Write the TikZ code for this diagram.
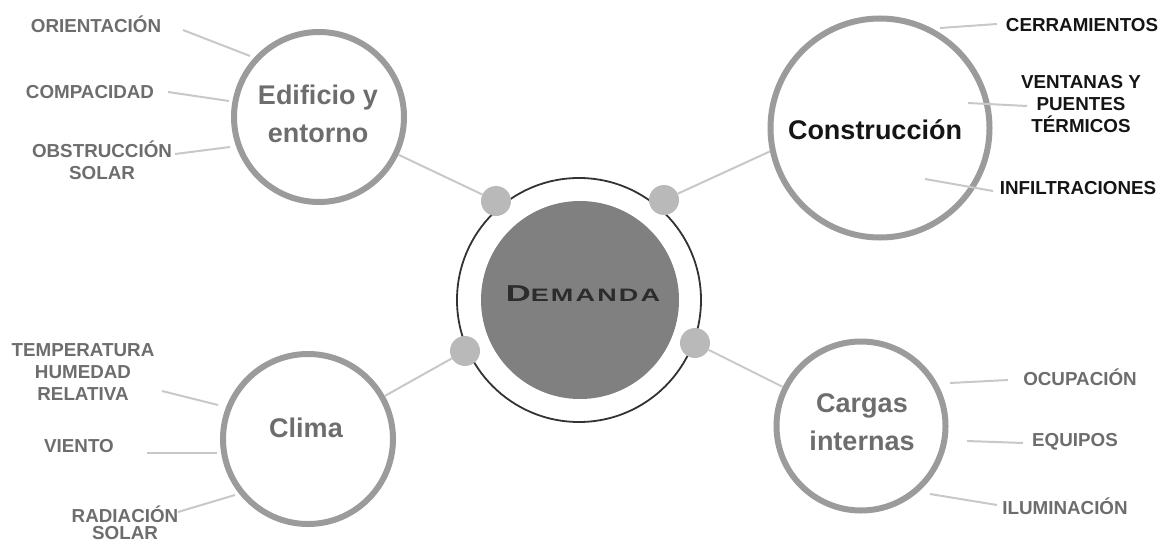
\documentclass[tikz,border=0pt]{standalone}
\usepackage{fontspec}
\setmainfont{Liberation Sans}
\newfontfamily\demfont{Liberation Sans}[LetterSpace=8]
\usepackage{graphicx}
\usepackage{tikz}

\definecolor{RingGray}{HTML}{9B9B9B}
\definecolor{DotGray}{HTML}{B9B9B9}
\definecolor{LineGray}{HTML}{C8C8C8}
\definecolor{CoreGray}{HTML}{808080}
\definecolor{LabelGray}{HTML}{6D6D6D}
\definecolor{LabelDark}{HTML}{151515}

\tikzset{
    PixelGrid/.style={x=1pt,y=-1pt},
    HubCircle/.style={circle,draw=RingGray,line width=6pt,minimum size=#1,inner sep=0pt},
    HubCircle/.default=170pt,
    HubText/.style={text=LabelGray,font=\bfseries\fontsize{27}{38}\selectfont,align=center,inner sep=0pt},
    Joint/.style={circle,fill=DotGray,minimum size=30pt,inner sep=0pt},
    LeafLabel/.style={text=LabelGray,font=\bfseries\fontsize{18.8}{22}\selectfont,align=center,inner sep=0pt},
    LeafLine/.style={draw=LineGray,line width=2pt}
}

\begin{document}
\begin{tikzpicture}[PixelGrid]
    \useasboundingbox (0,0) rectangle (1166,543);

    % centre
    \node[circle,draw=black!80,line width=1.8pt,minimum size=244pt,inner sep=0pt] (ring) at (579,300) {};
    \node[circle,fill=CoreGray,minimum size=198pt,inner sep=0pt] (core) at (580,300) {};
    \node[text=LabelDark!90,inner sep=0pt] (dem) at ([xshift=3pt,yshift=6pt]core.center)
        {\demfont\bfseries\scalebox{1.5}[1]{{\fontsize{23}{23}\selectfont D}\fontsize{18}{18}\selectfont EMANDA}};

    \node[Joint] (jtl) at (496,201) {};
    \node[Joint] (jtr) at (664,200) {};
    \node[Joint] (jbl) at (465,351) {};
    \node[Joint] (jbr) at (695,343) {};

    % hubs
    \node[HubCircle] (edif) at (319,117) {};
    \node[HubText] (edif-txt) at (318,114) {Edificio y\\entorno};
    \node[HubCircle=219pt] (cons) at (880,128) {};
    \node[HubText,text=LabelDark] (cons-txt) at (875,130) {Construcción};
    \node[HubCircle] (clima) at (308,439) {};
    \node[HubText] (clima-txt) at (306,428) {Clima};
    \node[HubCircle=169pt] (carg) at (861,426) {};
    \node[HubText] (carg-txt) at (862,422) {Cargas\\internas};

    \draw[LeafLine] (jtl) -- (edif);
    \draw[LeafLine] (jtr) -- (cons.192);
    \draw[LeafLine] (jbl) -- (clima);
    \draw[LeafLine] (jbr) -- (carg);

    % leaves
    \node[LeafLabel] (ori) at (96,24) {ORIENTACIÓN};
    \node[LeafLabel] (comp) at (90,92) {COMPACIDAD};
    \node[LeafLabel] (obst) at (102,160) {OBSTRUCCIÓN\\SOLAR};
    \node[LeafLabel,text=LabelDark] (cerr) at (1082,25) {CERRAMIENTOS};
    \node[LeafLabel,text=LabelDark] (vent) at (1081,104) {VENTANAS Y\\PUENTES\\TÉRMICOS};
    \node[LeafLabel,text=LabelDark] (infi) at (1078,188) {INFILTRACIONES};
    \node[LeafLabel] (temp) at (83,372) {TEMPERATURA\\HUMEDAD\\RELATIVA};
    \node[LeafLabel] (vien) at (79,446) {VIENTO};
    \node[LeafLabel,font=\bfseries\fontsize{18.8}{17}\selectfont] (radi) at (125,523) {RADIACIÓN\\SOLAR};
    \node[LeafLabel] (ocup) at (1080,377) {OCUPACIÓN};
    \node[LeafLabel] (equi) at (1075,442) {EQUIPOS};
    \node[LeafLabel] (ilum) at (1065,506) {ILUMINACIÓN};

    \coordinate (ori-a) at (183,30);   \coordinate (ori-b) at (250,56);
    \coordinate (comp-a) at (168,92);  \coordinate (comp-b) at (229,101);
    \coordinate (obst-a) at (175,154); \coordinate (obst-b) at (230,147);
    \coordinate (cerr-a) at (997,24);  \coordinate (cerr-b) at (940,28);
    \coordinate (vent-a) at (1027,106); \coordinate (vent-b) at (968,103);
    \coordinate (infi-a) at (993,191); \coordinate (infi-b) at (925,179);
    \coordinate (temp-a) at (162,391); \coordinate (temp-b) at (218,405);
    \coordinate (vien-a) at (147,453); \coordinate (vien-b) at (217,453);
    \coordinate (radi-a) at (178,512); \coordinate (radi-b) at (235,495);
    \coordinate (ocup-a) at (1008,380); \coordinate (ocup-b) at (950,383);
    \coordinate (equi-a) at (1023,443); \coordinate (equi-b) at (967,441);
    \coordinate (ilum-a) at (997,505); \coordinate (ilum-b) at (930,494);

    \draw[LeafLine] (ori-a) -- (ori-b);
    \draw[LeafLine] (comp-a) -- (comp-b);
    \draw[LeafLine] (obst-a) -- (obst-b);
    \draw[LeafLine] (cerr-a) -- (cerr-b);
    \draw[LeafLine] (vent-a) -- (vent-b);
    \draw[LeafLine] (infi-a) -- (infi-b);
    \draw[LeafLine] (temp-a) -- (temp-b);
    \draw[LeafLine] (vien-a) -- (vien-b);
    \draw[LeafLine] (radi-a) -- (radi-b);
    \draw[LeafLine] (ocup-a) -- (ocup-b);
    \draw[LeafLine] (equi-a) -- (equi-b);
    \draw[LeafLine] (ilum-a) -- (ilum-b);
\end{tikzpicture}
\end{document}
